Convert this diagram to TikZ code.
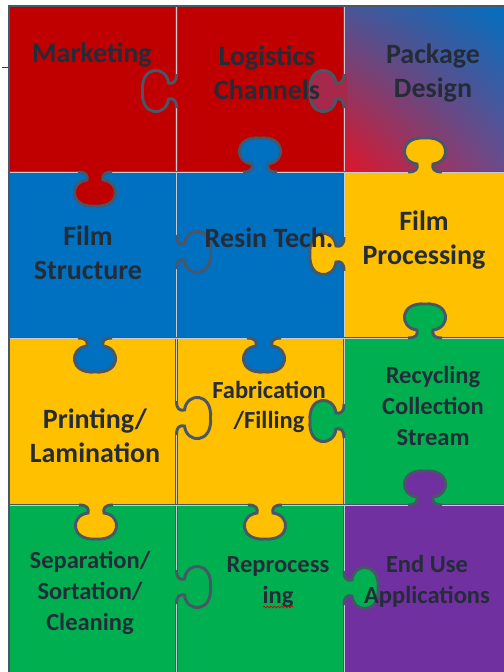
\documentclass[tikz,border=0pt]{standalone}
\usepackage{fontspec}
\setmainfont{Carlito}
\usepackage{tikz}
\usetikzlibrary{decorations.pathmorphing,shadings}

\definecolor{pzred}{RGB}{192,0,0}
\definecolor{pzblue}{RGB}{0,112,192}
\definecolor{pzyellow}{RGB}{255,192,0}
\definecolor{pzgreen}{RGB}{0,176,80}
\definecolor{pzpurple}{RGB}{112,48,160}
\definecolor{pzrose}{RGB}{166,40,74}
\definecolor{edgegray}{RGB}{72,86,104}
\definecolor{inkgray}{RGB}{36,44,56}
\definecolor{gradul}{RGB}{74,85,152}
\definecolor{gradur}{RGB}{0,112,192}
\definecolor{gradll}{RGB}{224,20,40}
\definecolor{gradlr}{RGB}{106,76,142}

\tikzset{
  pzedge/.style={draw=edgegray, line width=2.2pt},
  pzseam/.style={draw=edgegray, line width=0.85pt, double=white!70!edgegray, double distance=0.5pt},
  bigtext/.style={text=inkgray, font=\fontsize{21}{25.5}\selectfont\bfseries, align=center},
  smalltext/.style={text=inkgray, font=\fontsize{18.4}{23}\selectfont\bfseries, align=center},
  pics/knob/.style={code={
    \fill[#1] (-17,0) .. controls (-9,0) and (-7,3) .. (-8,8) .. controls (-26,10) and (-26,36) .. (0,34) .. controls (26,36) and (26,10) .. (8,8) .. controls (7,3) and (9,0) .. (17,0) -- (17,-3) -- (-17,-3) -- cycle;
    \draw[pzedge] (-17,0) .. controls (-9,0) and (-7,3) .. (-8,8) .. controls (-26,10) and (-26,36) .. (0,34) .. controls (26,36) and (26,10) .. (8,8) .. controls (7,3) and (9,0) .. (17,0);
  }}
}

\begin{document}
\begin{tikzpicture}[x=0.75pt,y=0.75pt,yscale=-1,xscale=1]
\useasboundingbox (0,0) rectangle (504,672);

%Shape: Pieces row 1
\fill[pzred] (9,6) rectangle (176.5,172);
\fill[pzred] (176.5,6) rectangle (344,172);
\shade[upper left=gradul, upper right=gradur, lower left=gradll, lower right=gradlr] (344,6) rectangle (508,172);
%Shape: Pieces row 2
\fill[pzblue] (9,172) rectangle (176.5,338);
\fill[pzblue] (176.5,172) rectangle (344,338);
\fill[pzyellow] (344,172) rectangle (508,338);
%Shape: Pieces row 3
\fill[pzyellow] (9,338) rectangle (176.5,505);
\fill[pzyellow] (176.5,338) rectangle (344,505);
\fill[pzgreen] (344,338) rectangle (508,505);
%Shape: Pieces row 4
\fill[pzgreen] (9,505) rectangle (176.5,676);
\fill[pzgreen] (176.5,505) rectangle (344,676);
\fill[pzpurple] (344,505) rectangle (508,676);

%Shape: stray line
\draw[pzred, line width=0.6pt] (2,67) -- (9,67);

%Shape: Seams
\draw[pzseam] (176.5,6) -- (176.5,676);
\draw[pzseam] (344,6) -- (344,676);
\draw[pzseam] (9,172) -- (508,172);
\draw[pzseam] (9,338) -- (508,338);
\draw[pzseam] (9,505) -- (508,505);
\draw[pzedge] (508,6) -- (9,6) -- (9,676);

%Shape: Tabs row 1
\pic[rotate=90] at (176.5,91) {knob=pzred};
\pic[rotate=90] at (344,91) {knob=pzrose};
\pic[rotate=180] at (95,172) {knob=pzred};
\pic at (260,172) {knob=pzblue};
\pic at (425,172) {knob=pzyellow};
%Shape: Tabs row 2
\pic[rotate=-90] at (176.5,252) {knob=pzblue};
\pic[rotate=90] at (344,254) {knob=pzyellow};
\pic[rotate=180] at (95,338) {knob=pzblue};
\pic[rotate=180] at (264,338) {knob=pzblue};
\pic at (425,338) {knob=pzgreen};
%Shape: Tabs row 3
\pic[rotate=-90] at (176.5,418) {knob=pzyellow};
\pic[rotate=90] at (344,421) {knob=pzgreen};
\pic[rotate=180] at (96,505) {knob=pzyellow};
\pic[rotate=180] at (265,505) {knob=pzyellow};
\pic at (425,505) {knob=pzpurple};
%Shape: Tabs row 4
\pic[rotate=-90] at (176.5,587) {knob=pzgreen};
\pic[rotate=-90] at (344,588) {knob=pzgreen};

% Text Node
\node[bigtext] (marketing) at (92,55) {Marketing};
% Text Node
\node[bigtext] (logistics) at (267,73) {Logistics\\Channels};
% Text Node
\node[bigtext] (package) at (433,73) {Package\\Design};
% Text Node
\node[bigtext] (filmstruct) at (88,253) {Film\\Structure};
% Text Node
\node[bigtext] (resin) at (269,238) {Resin Tech.};
% Text Node
\node[bigtext] (filmproc) at (424,240) {Film\\Processing};
% Text Node
\node[bigtext] (printing) at (95,436) {Printing/\\Lamination};
% Text Node
\node[smalltext] (fabrication) at (269,407) {Fabrication\\/Filling};
% Text Node
\node[smalltext] (recycling) at (433,406) {Recycling\\Collection\\Stream};
% Text Node
\node[smalltext] (separation) at (90,593) {Separation/\\Sortation/\\Cleaning};
% Text Node
\node[smalltext] (reprocessing) at (278,582) {Reprocess\\ing};
% Text Node
\node[smalltext] (enduse) at (427,581) {End Use\\Applications};

%Shape: squiggle
\draw[red!85!black, line width=0.5pt, decorate, decoration={snake, amplitude=0.7pt, segment length=2.6pt}] (263,607) -- (293,607);

\end{tikzpicture}
\end{document}
